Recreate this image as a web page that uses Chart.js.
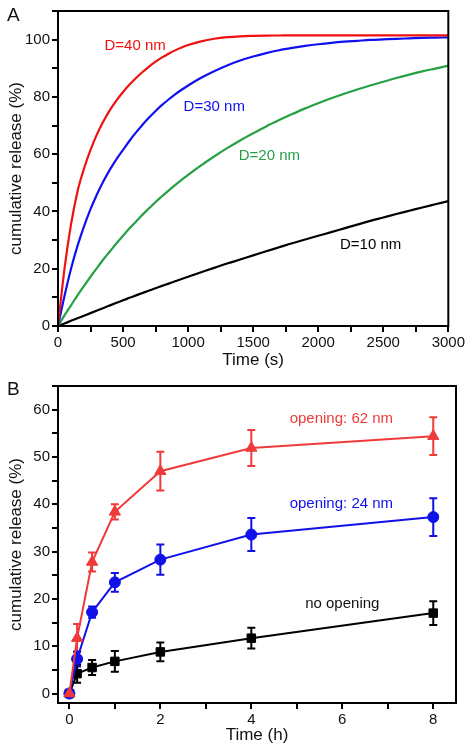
<!DOCTYPE html>
<html><head><meta charset="utf-8">
<script src="https://cdn.jsdelivr.net/npm/chart.js@4/dist/chart.umd.min.js"></script>
<style>
html,body{margin:0;padding:0;background:#fff;width:467px;height:750px;overflow:hidden;}
.wrap{position:absolute;left:0;width:467px;height:375px;}
#wa{top:0}#wb{top:375px}
.letter{position:absolute;left:7px;font:19px "Liberation Sans",Arial,sans-serif;color:#111;line-height:1;}
</style></head><body>
<div class="wrap" id="wa"><canvas id="ca" width="467" height="375"></canvas><div class="letter" style="top:5px">A</div></div>
<div class="wrap" id="wb"><canvas id="cb" width="467" height="375"></canvas><div class="letter" style="top:4px">B</div></div>
<script>
// ---- Panel A data ----
const timeA = [0,50,100,150,200,250,300,350,400,450,500,550,600,650,700,750,800,850,900,950,1000,
  1100,1200,1300,1400,1500,1600,1700,1800,1900,2000,2100,2200,2300,2400,2500,2600,2700,2800,2900,3000];
const d40 = [0,20,35.5,47,55,61.5,67,71.6,75.5,78.8,81.7,84.3,86.6,88.7,90.6,92.3,93.8,95.1,96.25,97.25,98.1,
  99.4,100.3,100.85,101.15,101.3,101.4,101.45,101.5,101.5,101.5,101.5,101.5,101.5,101.5,101.5,101.5,101.5,101.5,101.5,101.5];
const d30 = [0,10.5,20,28,34.8,40.8,46,50.6,54.7,58.3,61.5,64.7,67.6,70.3,72.8,75.1,77.2,79.1,80.9,82.5,84,
  86.7,89,91,92.7,94.1,95.3,96.3,97.1,97.8,98.4,98.9,99.3,99.6,99.9,100.1,100.3,100.45,100.6,100.7,100.8];
const d20 = [0,3.7,7.2,10.7,14,17.2,20.3,23.3,26.1,28.9,31.5,34.1,36.5,38.9,41.1,43.3,45.3,47.3,49.2,51,52.8,
  56.1,59.2,62.1,64.8,67.3,69.7,71.9,74,76,77.8,79.5,81.1,82.6,84,85.3,86.6,87.8,88.9,89.9,90.9];
const d10 = [0,0.9,1.8,2.7,3.6,4.5,5.4,6.3,7.2,8.1,9,9.85,10.7,11.55,12.4,13.2,14,14.8,15.6,16.4,17.2,
  18.75,20.3,21.8,23.2,24.65,26.1,27.5,28.9,30.2,31.5,32.8,34.1,35.4,36.7,37.9,39.1,40.25,41.4,42.5,43.6];
const xTicksA = [0,250,500,750,1000,1250,1500,1750,2000,2250,2500,2750,3000];
const yTicksA = [0,10,20,30,40,50,60,70,80,90,100,110];
const labelsA = ['D=40 nm','D=30 nm','D=20 nm','D=10 nm'];

// ---- Panel B data ----
const timeB = [0,0.17,0.5,1,2,4,8];
const open62 = [0,11.7,27.8,38.4,47,51.9,54.4];
const err62 = [0,3,2,1.6,4.1,3.8,4];
const open24 = [0,7.3,17.2,23.5,28.3,33.6,37.3];
const err24 = [0,1.6,1.2,2,3.2,3.5,4];
const noOpen = [0,4.2,5.5,6.8,8.8,11.7,17];
const errNo = [0,1.9,1.6,2.2,2,2.2,2.5];
const xTicksB = [0,1,2,3,4,5,6,7,8];
const yTicksB = [0,5,10,15,20,25,30,35,40,45,50,55,60,65];
const labelsB = ['opening: 62 nm','opening: 24 nm','no opening'];

const FONT = '"Liberation Sans", Arial, sans-serif';
const pts = (xs, ys) => xs.map((x,i)=>({x, y: ys[i]}));

const boxPlugin = {id:'box', afterDraw(chart){
  const {ctx, chartArea:a} = chart;
  ctx.save(); ctx.strokeStyle='#000'; ctx.lineWidth=2;
  ctx.strokeRect(a.left, a.top, a.right-a.left, a.bottom-a.top); ctx.restore();
}};
const textPlugin = {id:'txt', afterDatasetsDraw(chart, args, opts){
  const {ctx, scales:{x,y}} = chart;
  ctx.save(); ctx.font = '15px ' + FONT; ctx.textAlign='center'; ctx.textBaseline='middle';
  (opts.items||[]).forEach(it=>{ ctx.fillStyle = it.color; ctx.fillText(it.text, x.getPixelForValue(it.x), y.getPixelForValue(it.y)); });
  ctx.restore();
}};
const errPlugin = {id:'err', beforeDatasetsDraw(chart){
  const {ctx, scales:{x,y}} = chart;
  chart.data.datasets.forEach(ds=>{
    if(!ds.err) return;
    ctx.save(); ctx.strokeStyle = ds.borderColor; ctx.lineWidth = 2;
    ds.data.forEach((p,j)=>{
      const e = ds.err[j]; if(!e) return;
      const px = x.getPixelForValue(p.x), t = y.getPixelForValue(p.y+e), b = y.getPixelForValue(p.y-e);
      ctx.beginPath(); ctx.moveTo(px,t); ctx.lineTo(px,b);
      ctx.moveTo(px-4,t); ctx.lineTo(px+4,t); ctx.moveTo(px-4,b); ctx.lineTo(px+4,b); ctx.stroke();
    });
    ctx.restore();
  });
}};

function axis(ticksArr, labelFn, title, isX, size, titlePad){
  return {
    type:'linear',
    afterBuildTicks: s => { s.ticks = ticksArr.map(v=>({value:v})); },
    afterFit: s => { if(isX) s.height = size; else s.width = size; },
    ticks: {autoSkip:false, maxRotation:0, color:'#111', font:{family:FONT, size:15}, padding:2,
      callback: v => labelFn(v)},
    grid: {drawOnChartArea:false, drawTicks:true, tickLength:6, color:'#000', lineWidth:2},
    border: {display:false},
    title: {display:true, text:title, color:'#111', font:{family:FONT, size:17}, padding: titlePad}
  };
}

const common = {responsive:false, animation:false, events:[]};

// ---- Chart A ----
const xA = axis(xTicksA, v => (v%500===0 ? String(v) : ''), 'Time (s)', true, 49, {top:0,bottom:4});
xA.min = 0; xA.max = 3000;
const yA = axis(yTicksA, v => (v%20===0 && v<=100 ? String(v) : ''), 'cumulative release (%)', false, 58, {top:6,bottom:0});
yA.min = 0; yA.max = 110;
const lineA = (data, color) => ({data: pts(timeA, data), borderColor: color, backgroundColor: color,
  borderWidth: 2.2, pointRadius: 0, cubicInterpolationMode: 'monotone', fill:false});
new Chart(document.getElementById('ca'), {
  type:'line',
  data:{datasets:[lineA(d40,'#f01010'), lineA(d30,'#1010f0'), lineA(d20,'#25a045'), lineA(d10,'#000')]},
  options:Object.assign({}, common, {
    layout:{padding:{top:10,right:12,left:0,bottom:0}},
    scales:{x:xA, y:yA},
    plugins:{legend:{display:false}, tooltip:{enabled:false},
      txt:{items:[
        {text:labelsA[0], x:593, y:98, color:'#f01010'},
        {text:labelsA[1], x:1201, y:76.5, color:'#1010f0'},
        {text:labelsA[2], x:1625, y:59.4, color:'#25a045'},
        {text:labelsA[3], x:2403, y:28.2, color:'#000'}]}}
  }),
  plugins:[boxPlugin, textPlugin]
});

// ---- Chart B ----
const xB = axis(xTicksB, v => (v%2===0 ? String(v) : ''), 'Time (h)', true, 47, {top:0,bottom:4});
xB.min = -0.25; xB.max = 8.5;
const yB = axis(yTicksB, v => (v%10===0 && v<=60 ? String(v) : ''), 'cumulative release (%)', false, 58, {top:6,bottom:0});
yB.min = -2; yB.max = 65;
const lineB = (data, err, color, style, r) => ({data: pts(timeB, data), err, borderColor: color, backgroundColor: color,
  borderWidth: 2, pointRadius: r, pointStyle: style, pointBorderWidth: 1, tension: 0, fill:false});
new Chart(document.getElementById('cb'), {
  type:'line',
  data:{datasets:[lineB(open62, err62, '#f03a3a', 'triangle', 6.5), lineB(open24, err24, '#1010e8', 'circle', 5.5), lineB(noOpen, errNo, '#000', 'rect', 6)]},
  options:Object.assign({}, common, {
    layout:{padding:{top:10,right:11,left:0,bottom:0}},
    scales:{x:xB, y:yB},
    plugins:{legend:{display:false}, tooltip:{enabled:false},
      txt:{items:[
        {text:labelsB[0], x:5.98, y:58, color:'#f03a3a'},
        {text:labelsB[1], x:5.98, y:40, color:'#1010e8'},
        {text:labelsB[2], x:6.0, y:19, color:'#111'}]}}
  }),
  plugins:[boxPlugin, errPlugin, textPlugin]
});
</script>
</body></html>
